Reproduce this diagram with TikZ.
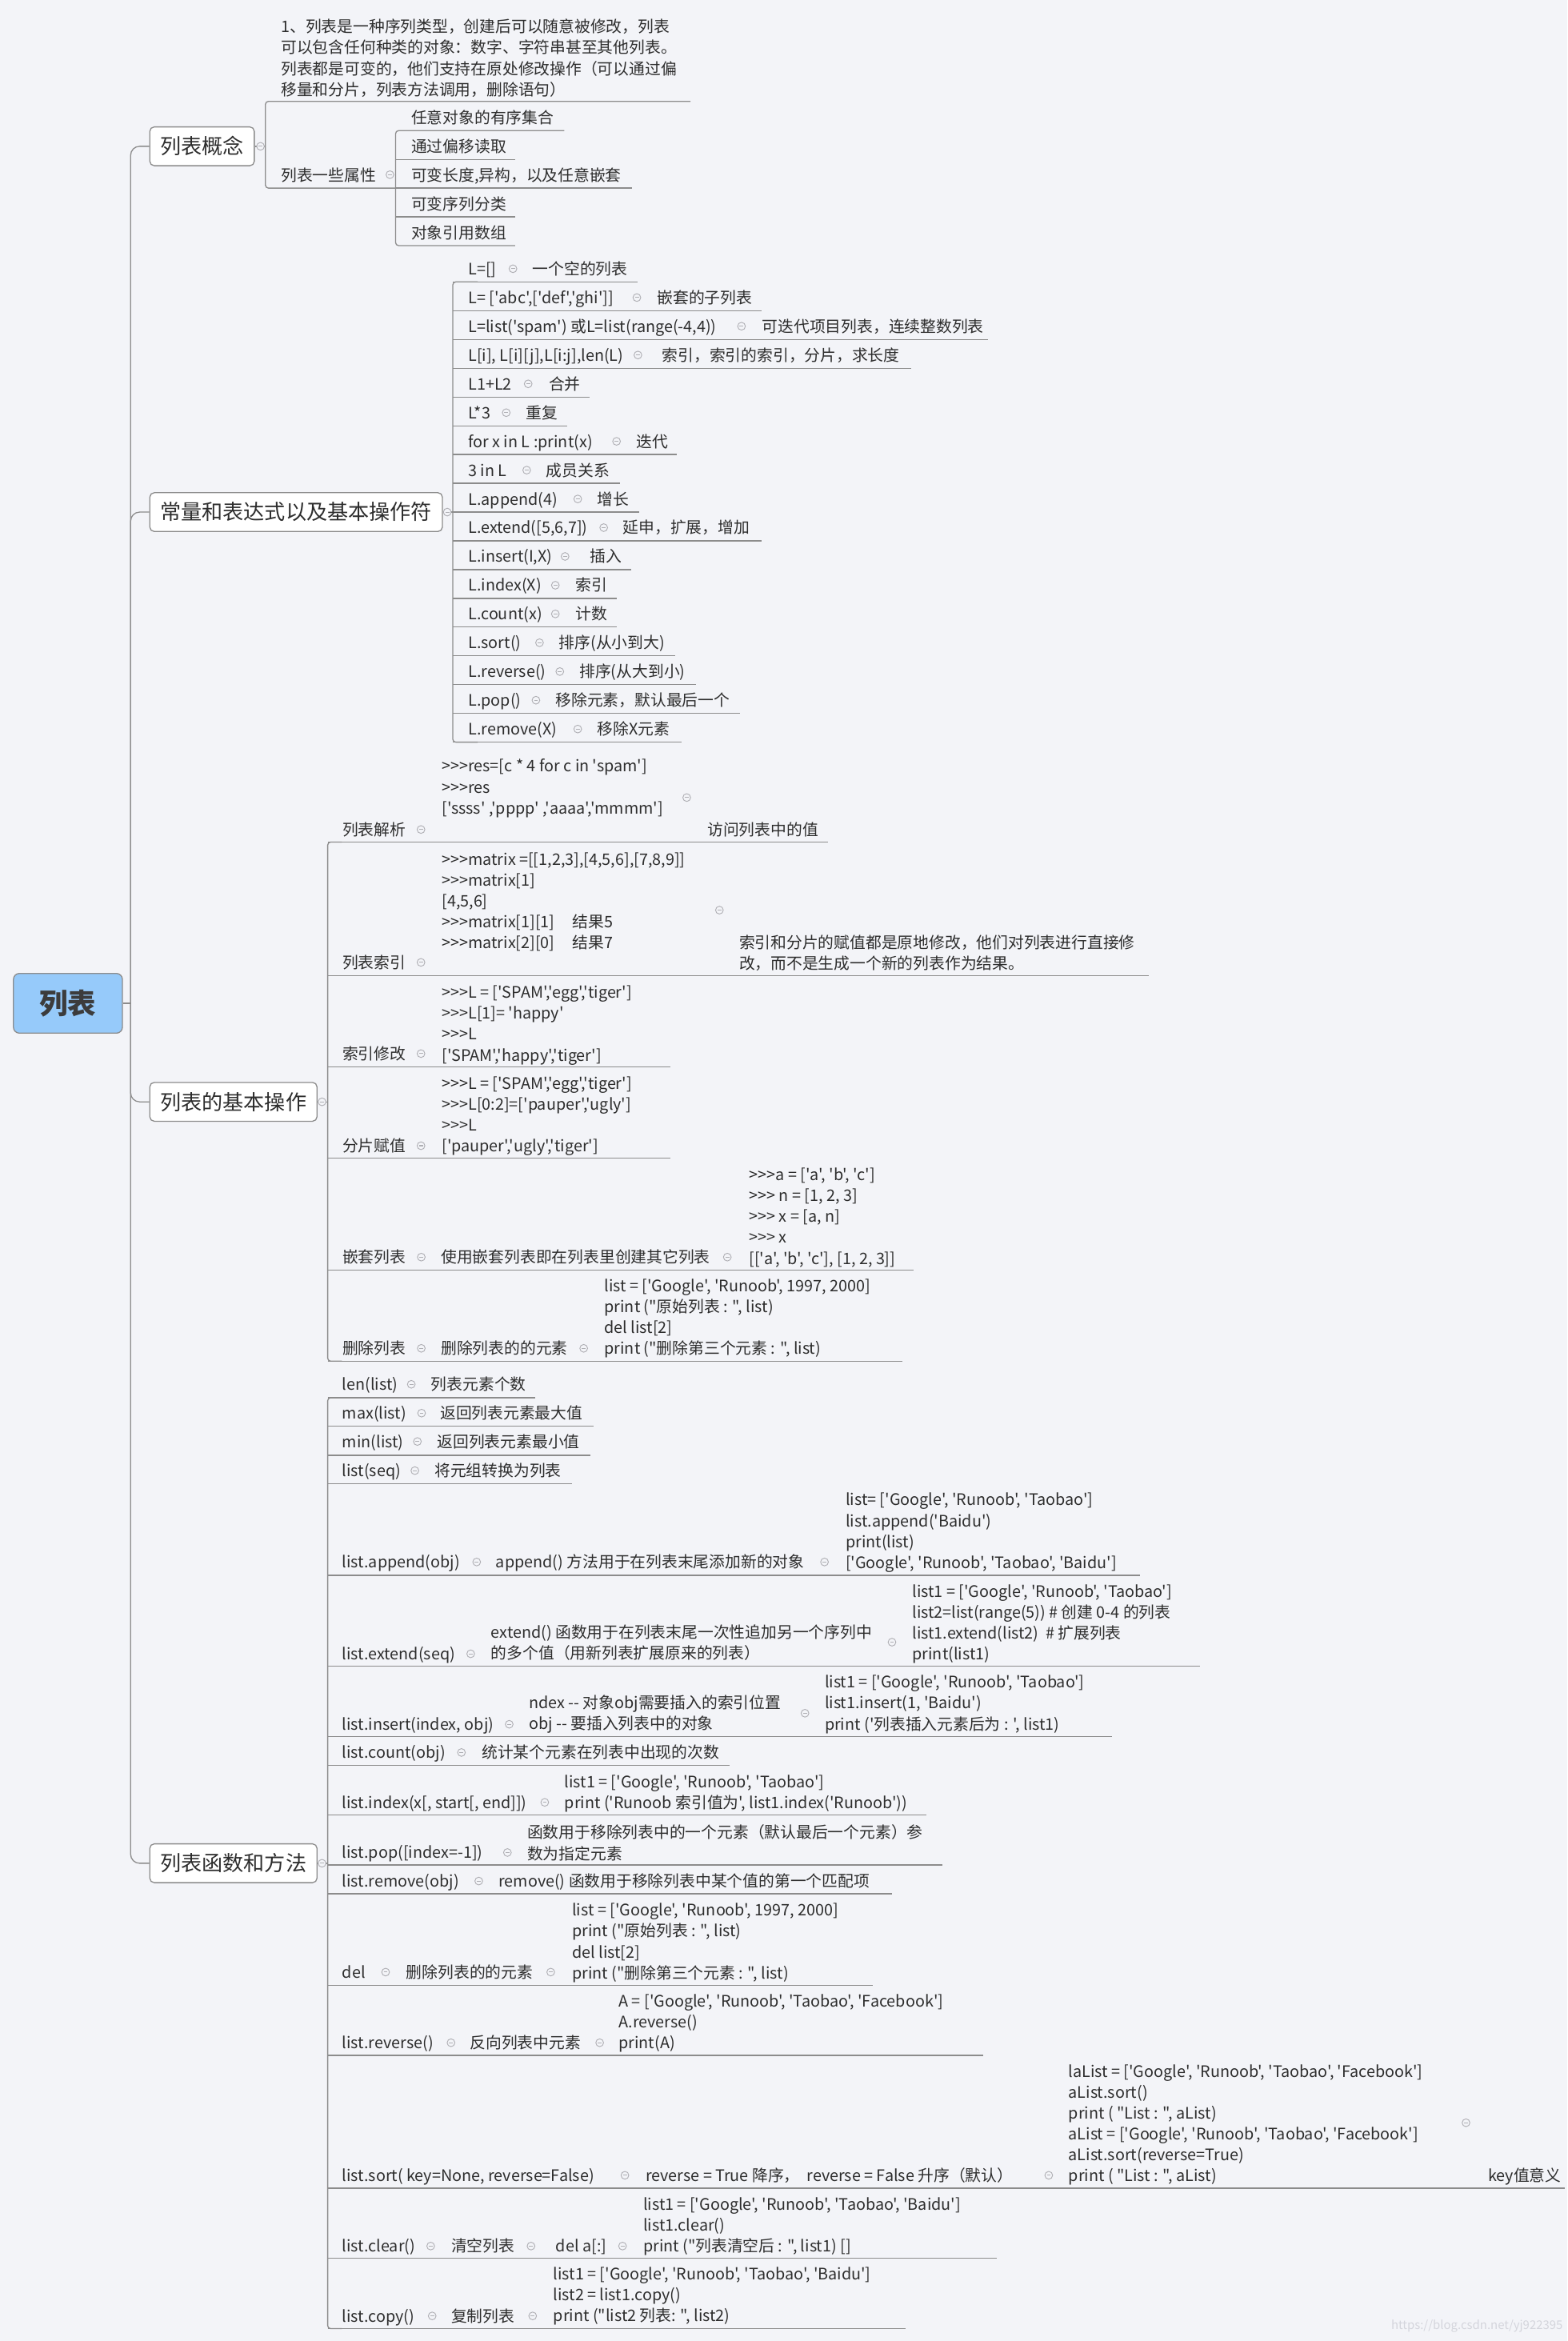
\documentclass[tikz,border=0pt]{standalone}
\usepackage{fontspec}
\newfontfamily\cn{Noto Sans CJK SC}
\definecolor{bg}{RGB}{243,244,248}
\definecolor{lnc}{RGB}{140,140,140}
\definecolor{tx}{RGB}{45,45,45}
\definecolor{mkc}{RGB}{175,175,180}
\definecolor{rootc}{RGB}{150,202,250}
\definecolor{roott}{RGB}{60,60,60}
\definecolor{wm}{RGB}{212,213,220}
\newcommand\mlines[1]{\begin{tabular}[t]{@{}l@{}}#1\end{tabular}}
\newcommand\mkr[2]{\draw[mkc,line width=0.5pt,fill=bg] (#1,#2) circle[radius=2.6pt]; \draw[mkc,line width=0.6pt] (#1-1.3,#2) -- (#1+1.3,#2);}
\def\brx{0}
\newcommand\kvrow[9]{%
  \node[txt] (#1) at (#4,#3+4) {#5};
  \node[txt] (#1d) at (#8,#3+4) {#7};
  \draw[conn] (\brx,#2) -- (#9,#2);
  \mkr{#6}{#3}
}
\begin{document}
\begin{tikzpicture}[x=1pt,y=-1pt,
  txt/.style={font=\cn\fontsize{10.6}{14}\selectfont, text=tx, inner sep=0pt, anchor=base west},
  lvl/.style={draw=lnc, fill=white, line width=0.7pt, rounded corners=3pt, font=\cn\fontsize{14}{16}\selectfont, text=tx, minimum height=26pt, inner xsep=7pt, inner ysep=0pt, anchor=west},
  rootn/.style={draw=lnc, fill=rootc, line width=0.7pt, rounded corners=4pt, font=\cn\bfseries\fontsize{19}{22}\selectfont, text=roott, minimum width=73pt, minimum height=40pt, inner sep=0pt},
  conn/.style={draw=lnc, line width=0.7pt}]
\fill[bg] (0,0) rectangle (1050,1568);
\useasboundingbox (0,0) rectangle (1050,1568);

% ---------- root and level 1 ----------
\node[rootn] (root) at (45.5,672) {列表};
\node[lvl] (b1) at (100,98) {列表概念};
\node[lvl] (b2) at (100,343) {常量和表达式以及基本操作符};
\node[lvl] (b3) at (100,738) {列表的基本操作};
\node[lvl] (b4) at (100,1248) {列表函数和方法};
\draw[conn] (root.east) -- (87.5,672);
\foreach \b in {b1,b2,b3,b4} \draw[conn, rounded corners=6pt] (87.5,672) |- (\b.west);

% ---------- branch 1 ----------
\draw[conn] (b1.east) -- (177.8,98);
\draw[conn, rounded corners=2pt] (462.5,67.9) -- (177.8,67.9) -- (177.8,126) -- (265,126);
\node[txt] (p1) at (188.1,21.9) {\mlines{1、列表是一种序列类型，创建后可以随意被修改，列表\\{}可以包含任何种类的对象：数字、字符串甚至其他列表。\\{}列表都是可变的，他们支持在原处修改操作（可以通过偏\\{}移量和分片，列表方法调用，删除语句）}};
\node[txt] (attr) at (188.1,121.2) {列表一些属性};
\draw[conn, rounded corners=2pt] (378,87.5) -- (265,87.5) -- (265,164.5) -- (345,164.5);
\draw[conn] (265,106.8) -- (345,106.8);
\draw[conn] (265,126) -- (423.6,126);
\draw[conn] (265,145.3) -- (345,145.3);
\node[txt] (a1) at (275.3,82.7) {任意对象的有序集合};
\node[txt] (a2) at (275.3,102) {通过偏移读取};
\node[txt] (a3) at (275.3,121.2) {可变长度,异构，以及任意嵌套};
\node[txt] (a4) at (275.3,140.5) {可变序列分类};
\node[txt] (a5) at (275.3,159.7) {对象引用数组};
\mkr{174.5}{98}
\mkr{261.2}{117}

% ---------- branch 2 ----------
\draw[conn] (b2.east) -- (303.3,343);
\draw[conn, rounded corners=2pt] (320,188.8) -- (303.3,188.8) -- (303.3,497.1) -- (320,497.1);
\mkr{299.6}{343}
\def\brx{303.3}
\kvrow{k1}{188.8}{180.0}{313.5}{L=[]}{343.6}{一个空的列表}{356.6}{427.3}
\kvrow{k2}{208.1}{199.3}{313.5}{L= ['abc',['def','ghi']]}{426.6}{嵌套的子列表}{440}{510.4}
\kvrow{k3}{227.3}{218.5}{313.5}{L=list('spam') 或L=list(range(-4,4))}{496.7}{可迭代项目列表，连续整数列表}{510.4}{662}
\kvrow{k4}{246.6}{237.8}{313.5}{L[i], L[i][j],L[i:j],len(L)}{427.3}{索引，索引的索引，分片，求长度}{443.4}{610.2}
\kvrow{k5}{265.9}{257.1}{313.5}{L1+L2}{353.8}{合并}{367.5}{394.9}
\kvrow{k6}{285.2}{276.4}{313.5}{L*3}{339.1}{重复}{352.1}{380.2}
\kvrow{k7}{304.4}{295.6}{313.5}{for x in L :print(x)}{413}{迭代}{426.3}{453.6}
\kvrow{k8}{323.7}{314.9}{313.5}{3 in L}{352.8}{成员关系}{365.8}{415.4}
\kvrow{k9}{343.0}{334.2}{313.5}{L.append(4)}{387}{增长}{400}{428}
\kvrow{k10}{362.2}{353.4}{313.5}{L.extend([5,6,7])}{404.4}{延申，扩展，增加}{417.1}{510}
\kvrow{k11}{381.5}{372.7}{313.5}{L.insert(I,X)}{378.5}{插入}{394.9}{422.9}
\kvrow{k12}{400.8}{392.0}{313.5}{L.index(X)}{372}{索引}{385.3}{413}
\kvrow{k13}{420.0}{411.2}{313.5}{L.count(x)}{372}{计数}{385.3}{413}
\kvrow{k14}{439.3}{430.5}{313.5}{L.sort()}{361.4}{排序(从小到大)}{374.3}{452.3}
\kvrow{k15}{458.6}{449.8}{313.5}{L.reverse()}{375}{排序(从大到小)}{388}{466}
\kvrow{k16}{477.8}{469.0}{313.5}{L.pop()}{359}{移除元素，默认最后一个}{372}{495.7}
\kvrow{k17}{497.1}{488.3}{313.5}{L.remove(X)}{387}{移除X元素}{400}{456.4}

% ---------- branch 3 ----------
\draw[conn] (b3.east) -- (219.5,738);
\draw[conn, rounded corners=2pt] (229,564) -- (219.5,564) -- (219.5,911.7) -- (229,911.7);
\mkr{215.7}{738}
% 列表解析
\draw[conn] (219.5,564) -- (554.5,564);
\node[txt] (jx) at (229.2,559.6) {列表解析};
\mkr{282}{555.6}
\node[txt] (jxc) at (295.8,517.1) {\mlines{>>>res=[c * 4 for c in 'spam']\\{}>>>res\\{}['ssss' ,'pppp' ,'aaaa','mmmm']}};
\mkr{460}{534.2}
\node[txt] (jxd) at (473.7,559.6) {访问列表中的值};
% 列表索引
\draw[conn] (219.5,653.4) -- (769.6,653.4);
\node[txt] (sy) at (229.2,648.6) {列表索引};
\mkr{282}{644.6}
\node[txt] (syc) at (295.8,579.3) {\mlines{>>>matrix =[[1,2,3],[4,5,6],[7,8,9]]\\{}>>>matrix[1]\\{}[4,5,6]\\{}>>>matrix[1][1]\hspace{12pt}结果5\\{}>>>matrix[2][0]\hspace{12pt}结果7}};
\mkr{481.9}{609.6}
\node[txt] (syd) at (495,635.2) {\mlines{索引和分片的赋值都是原地修改，他们对列表进行直接修\\{}改，而不是生成一个新的列表作为结果。}};
% 索引修改
\draw[conn] (219.5,714.6) -- (448.8,714.6);
\node[txt] (xg) at (229.2,709.7) {索引修改};
\mkr{282}{705.7}
\node[txt] (xgc) at (295.8,668.6) {\mlines{>>>L = ['SPAM','egg','tiger']\\{}>>>L[1]= 'happy'\\{}>>>L\\{}['SPAM','happy','tiger']}};
% 分片赋值
\draw[conn] (219.5,775.7) -- (449,775.7);
\node[txt] (fp) at (229.2,771.4) {分片赋值};
\mkr{282}{767.4}
\node[txt] (fpc) at (295.8,729.4) {\mlines{>>>L = ['SPAM','egg','tiger']\\{}>>>L[0:2]=['pauper','ugly']\\{}>>>L\\{}['pauper','ugly','tiger']}};
% 嵌套列表
\draw[conn] (219.5,850.8) -- (612,850.8);
\node[txt] (qt) at (229.2,846) {嵌套列表};
\mkr{282.2}{842}
\node[txt] (qtd) at (295.3,846) {使用嵌套列表即在列表里创建其它列表};
\mkr{487.2}{842}
\node[txt] (qtc) at (501.7,790.7) {\mlines{>>>a = ['a', 'b', 'c']\\{}>>> n = [1, 2, 3]\\{}>>> x = [a, n]\\{}>>> x\\{}[['a', 'b', 'c'], [1, 2, 3]]}};
% 删除列表
\draw[conn] (219.5,911.7) -- (604.3,911.7);
\node[txt] (sc) at (229.2,907.1) {删除列表};
\mkr{282.2}{903.1}
\node[txt] (scd) at (295.3,907.1) {删除列表的的元素};
\mkr{391}{903.1}
\node[txt] (scc) at (404.7,865.2) {\mlines{list = ['Google', 'Runoob', 1997, 2000]\\{}print ("原始列表 : ", list)\\{}del list[2]\\{}print ("删除第三个元素 : ", list)}};

% ---------- branch 4 ----------
\draw[conn] (b4.east) -- (219.5,1248);
\draw[conn, rounded corners=2pt] (229,936.2) -- (219.5,936.2) -- (219.5,1559.7) -- (229,1559.7);
\mkr{215.7}{1248}
\def\brx{219.5}
\kvrow{f1}{936.2}{927.2}{229.1}{len(list)}{275.5}{列表元素个数}{288.6}{358.7}
\kvrow{f2}{955.3}{946.5}{229.1}{max(list)}{282.4}{返回列表元素最大值}{294.7}{397.7}
\kvrow{f3}{974.8}{965.5}{229.1}{min(list)}{279.6}{返回列表元素最小值}{292.7}{395.7}
\kvrow{f4}{993.8}{985}{229.1}{list(seq)}{277.9}{将元组转换为列表}{291}{383.4}
\kvrow{f5}{1055.2}{1046.2}{229.1}{list.append(obj)}{319.3}{append() 方法用于在列表末尾添加新的对象}{332}{763.6}
\mkr{552.3}{1046.2}
\node[txt] (f5c) at (566.3,1008.5) {\mlines{list= ['Google', 'Runoob', 'Taobao']\\{}list.append('Baidu')\\{}print(list)\\{}['Google', 'Runoob', 'Taobao', 'Baidu']}};
% extend
\draw[conn] (219.5,1115.9) -- (803.8,1115.9);
\node[txt] (f6) at (229.1,1111.7) {list.extend(seq)};
\mkr{315.3}{1107.7}
\node[txt] (f6d) at (328.8,1097.3) {\mlines{extend() 函数用于在列表末尾一次性追加另一个序列中\\{}的多个值（用新列表扩展原来的列表）}};
\mkr{597.5}{1099.9}
\node[txt] (f6c) at (611,1069.7) {\mlines{list1 = ['Google', 'Runoob', 'Taobao']\\{}list2=list(range(5)) \# 创建 0-4 的列表\\{}list1.extend(list2)\ \ \# 扩展列表\\{}print(list1)}};
% insert
\draw[conn] (219.5,1163.1) -- (745.1,1163.1);
\node[txt] (f7) at (229.1,1158.9) {list.insert(index, obj)};
\mkr{341.1}{1154.9}
\node[txt] (f7d) at (354.2,1144.5) {\mlines{ndex -- 对象obj需要插入的索引位置\\{}obj -- 要插入列表中的对象}};
\mkr{539.2}{1147.5}
\node[txt] (f7c) at (552.3,1130.6) {\mlines{list1 = ['Google', 'Runoob', 'Taobao']\\{}list1.insert(1, 'Baidu')\\{}print ('列表插入元素后为 : ', list1)}};
% count
\kvrow{f8}{1182.4}{1173.8}{229.1}{list.count(obj)}{309.1}{统计某个元素在列表中出现的次数}{322.6}{488.8}
% index
\draw[conn] (219.5,1215.8) -- (620.8,1215.8);
\node[txt] (f9) at (229.1,1211.2) {list.index(x[, start[, end]])};
\mkr{364.9}{1207.2}
\node[txt] (f9c) at (378,1197.2) {\mlines{list1 = ['Google', 'Runoob', 'Taobao']\\{}print ('Runoob 索引值为', list1.index('Runoob'))}};
% pop
\draw[conn] (219.5,1249.2) -- (631.3,1249.2);
\node[txt] (f10) at (229.1,1244.8) {list.pop([index=-1])};
\mkr{339.9}{1240.8}
\node[txt] (f10d) at (353,1231.4) {\mlines{函数用于移除列表中的一个元素（默认最后一个元素）参\\{}数为指定元素}};
% remove
\kvrow{f11}{1268.5}{1259.9}{229.1}{list.remove(obj)}{320.7}{remove() 函数用于移除列表中某个值的第一个匹配项}{333.9}{597.5}
% del
\kvrow{f12}{1329.6}{1320.9}{229.1}{del}{258.3}{删除列表的的元素}{272}{584.9}
\mkr{368.9}{1320.9}
\node[txt] (f12c) at (383.1,1283.3) {\mlines{list = ['Google', 'Runoob', 1997, 2000]\\{}print ("原始列表 : ", list)\\{}del list[2]\\{}print ("删除第三个元素 : ", list)}};
% reverse
\kvrow{f13}{1376.6}{1368.2}{229.1}{list.reverse()}{302.1}{反向列表中元素}{314.7}{658.7}
\mkr{401.7}{1368.2}
\node[txt] (f13c) at (414.3,1344.3) {\mlines{A = ['Google', 'Runoob', 'Taobao', 'Facebook']\\{}A.reverse()\\{}print(A)}};
% sort
\kvrow{f14}{1465.6}{1457}{229.1}{list.sort( key=None, reverse=False)}{418.6}{reverse = True 降序，\ \ reverse = False 升序（默认）}{432.3}{1048}
\mkr{702.5}{1457}
\node[txt] (f14c) at (715.6,1391.3) {\mlines{laList = ['Google', 'Runoob', 'Taobao', 'Facebook']\\{}aList.sort()\\{}print ( "List : ", aList)\\{}aList = ['Google', 'Runoob', 'Taobao', 'Facebook']\\{}aList.sort(reverse=True)\\{}print ( "List : ", aList)}};
\mkr{982}{1421.8}
\node[txt] (f14k) at (996.7,1461) {key值意义};
% clear
\kvrow{f15}{1512.4}{1504.4}{229.1}{list.clear()}{288.5}{清空列表}{302.1}{667.5}
\mkr{355.7}{1504.4}
\node[txt] (f15e) at (372.2,1508.4) {del a[:]};
\mkr{417}{1504.4}
\node[txt] (f15c) at (430.7,1480.1) {\mlines{list1 = ['Google', 'Runoob', 'Taobao', 'Baidu']\\{}list1.clear()\\{}print ("列表清空后 : ", list1) []}};
% copy
\kvrow{f16}{1559.7}{1551.2}{229.1}{list.copy()}{289.5}{复制列表}{302.1}{606.7}
\mkr{356.8}{1551.2}
\node[txt] (f16c) at (370.5,1527.1) {\mlines{list1 = ['Google', 'Runoob', 'Taobao', 'Baidu']\\{}list2 = list1.copy()\\{}print ("list2 列表: ", list2)}};

% watermark
\node[font=\cn\fontsize{8}{9}\selectfont, text=wm, anchor=east, inner sep=0pt] (wmk) at (1047,1558) {https://blog.csdn.net/yj922395};
\end{tikzpicture}
\end{document}
